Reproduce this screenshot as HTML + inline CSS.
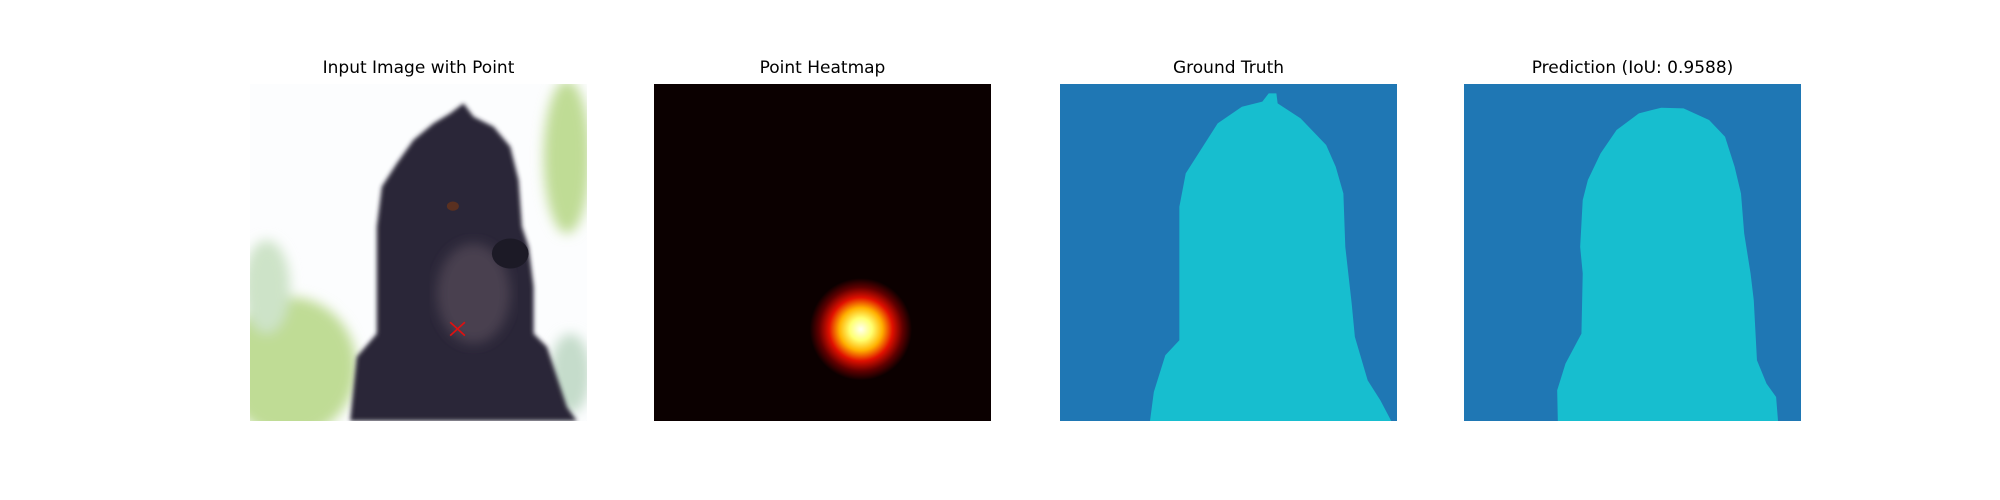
<!DOCTYPE html>
<html><head><meta charset="utf-8"><style>
body{margin:0;background:#fff;width:2000px;height:500px;overflow:hidden;font-family:"Liberation Sans","DejaVu Sans",sans-serif}
.t{position:absolute;top:58px;width:337px;text-align:center;font-size:17px;color:#000;font-family:"DejaVu Sans","Liberation Sans",sans-serif}
svg{position:absolute;top:84px;width:337px;height:337px}
</style></head><body>
<div class="t" style="left:250px">Input Image with Point</div>
<div class="t" style="left:654px">Point Heatmap</div>
<div class="t" style="left:1060px">Ground Truth</div>
<div class="t" style="left:1464px">Prediction (IoU: 0.9588)</div>

<svg style="left:250px" viewBox="150 132 1010 1010" preserveAspectRatio="none">
<defs><filter id="bl"><feGaussianBlur stdDeviation="18"/></filter><filter id="b2"><feGaussianBlur stdDeviation="6"/></filter></defs>
<rect x="150" y="132" width="1010" height="1010" fill="#fcfdfe"/>
<g filter="url(#bl)" fill="#bfdc95">
<ellipse cx="270" cy="980" rx="200" ry="210"/>
<ellipse cx="200" cy="740" rx="70" ry="140" fill="#cde3c8"/>
<ellipse cx="1100" cy="350" rx="70" ry="230"/>
<ellipse cx="1110" cy="1000" rx="60" ry="120" fill="#c5dccb"/>
</g>
<path filter="url(#b2)" fill="#2b2638" d="M450,1142 L470,950 L530,880 L530,560 L545,440 L590,370 L640,300 L700,250 L750,220 L790,190 L820,230 L880,260 L930,320 L955,420 L965,560 L985,620 L1000,740 L1000,880 L1040,920 L1100,1100 L1130,1142 Z"/>
<ellipse cx="820" cy="760" rx="110" ry="150" fill="#4a4050" filter="url(#bl)"/>
<ellipse cx="930" cy="640" rx="55" ry="45" fill="#1c1a26"/>
<ellipse cx="758" cy="498" rx="18" ry="14" fill="#5a3020"/>
<g stroke="#e01010" stroke-width="5"><line x1="750" y1="846" x2="794" y2="886"/><line x1="794" y1="846" x2="750" y2="886"/></g>
</svg>

<svg style="left:654px" viewBox="0 0 224 224" preserveAspectRatio="none">
<defs><radialGradient id="hg" cx="137.5" cy="163" r="34" gradientUnits="userSpaceOnUse">
<stop offset="0" stop-color="#fffff0"/><stop offset="0.22" stop-color="#ffff70"/><stop offset="0.42" stop-color="#ffb000"/><stop offset="0.62" stop-color="#e01000"/><stop offset="0.82" stop-color="#600000"/><stop offset="1" stop-color="#0b0000"/></radialGradient></defs>
<rect width="224" height="224" fill="#0b0000"/>
<circle cx="137.5" cy="163" r="34" fill="url(#hg)"/>
</svg>

<svg style="left:1060px" viewBox="93 132 528 1010" preserveAspectRatio="none">
<rect x="93" y="132" width="528" height="1010" fill="#1f77b4"/>
<path fill="#17becf" d="M234,1142 L240,1055 L258,945 L280,900 L280,500 L290,400 L310,340 L340,250 L378,200 L410,185 L420,160 L432,160 L434,190 L470,235 L510,315 L525,380 L537,460 L540,620 L550,790 L555,890 L575,1020 L595,1080 L612,1142 Z"/>
</svg>

<svg style="left:1464px" viewBox="726 132 528 1010" preserveAspectRatio="none">
<rect x="726" y="132" width="528" height="1010" fill="#1f77b4"/>
<path fill="#17becf" d="M873,1142 L872,1050 L885,970 L910,880 L912,700 L908,620 L912,480 L920,420 L940,340 L965,270 L1000,220 L1035,203 L1070,205 L1110,240 L1135,290 L1150,380 L1160,460 L1165,580 L1175,700 L1180,780 L1185,960 L1200,1030 L1215,1070 L1218,1142 Z"/>
</svg>
</body></html>
